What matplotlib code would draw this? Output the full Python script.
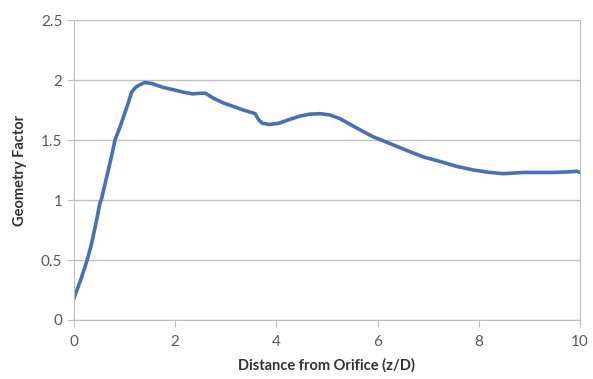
import matplotlib.pyplot as plt

# distance from orifice (z/D) and geometry factor
z = [0.0, 0.05, 0.12, 0.2, 0.26, 0.35, 0.45, 0.51, 0.55, 0.65, 0.75, 0.81,
     0.91, 1.05, 1.14, 1.22, 1.3, 1.4, 1.55, 1.75, 1.96, 2.15, 2.35, 2.5,
     2.6, 2.75, 2.95, 3.15, 3.35, 3.58, 3.65, 3.72, 3.87, 4.05, 4.25, 4.47,
     4.65, 4.86, 5.05, 5.25, 5.59, 5.9, 6.25, 6.6, 6.9, 7.25, 7.57, 7.9, 8.22,
     8.48, 8.7, 8.87, 9.2, 9.5, 9.8, 9.94, 10.0]
gf = [0.18, 0.24, 0.32, 0.42, 0.5, 0.64, 0.84, 0.97, 1.02, 1.2, 1.38, 1.5,
      1.61, 1.78, 1.9, 1.94, 1.96, 1.98, 1.97, 1.94, 1.92, 1.9, 1.885, 1.89,
      1.89, 1.85, 1.81, 1.78, 1.75, 1.72, 1.67, 1.64, 1.63, 1.64, 1.67, 1.7,
      1.715, 1.72, 1.71, 1.68, 1.6, 1.53, 1.47, 1.41, 1.36, 1.32, 1.28, 1.25,
      1.23, 1.22, 1.225, 1.23, 1.23, 1.23, 1.235, 1.24, 1.23]

plt.rcParams['font.family'] = ['Lato', 'DejaVu Sans']

fig = plt.figure(figsize=(5.93, 3.79), dpi=100)
ax = fig.add_axes([0.1248, 0.1557, 0.853, 0.7913])

ax.plot(z, gf, color='#4672b4', lw=2.6, solid_capstyle='round', solid_joinstyle='round')

ax.set_xlim(0, 10)
ax.set_ylim(0, 2.5)
ax.set_xticks([0, 2, 4, 6, 8, 10])
ax.set_xticklabels(['0', '2', '4', '6', '8', '10'])
ax.set_yticks([0, 0.5, 1, 1.5, 2, 2.5])
ax.set_yticklabels(['0', '0.5', '1', '1.5', '2', '2.5'])
ax.grid(axis='y', color='#bfbfbf', lw=1.0)
ax.set_axisbelow(True)

for s in ['left', 'bottom', 'right']:
    ax.spines[s].set_color('#bfbfbf')
ax.spines['top'].set_visible(False)
ax.tick_params(colors='#bfbfbf', labelcolor='#595959', labelsize=11, length=5, direction='out')
ax.tick_params(axis='x', pad=6)

ax.set_xlabel('Distance from Orifice (z/D)', fontsize=10.5, fontweight='bold', color='#333333', labelpad=6)
ax.set_ylabel('Geometry Factor', fontsize=10.5, fontweight='bold', color='#333333', labelpad=10)

fig.savefig('out.png', dpi=100)
